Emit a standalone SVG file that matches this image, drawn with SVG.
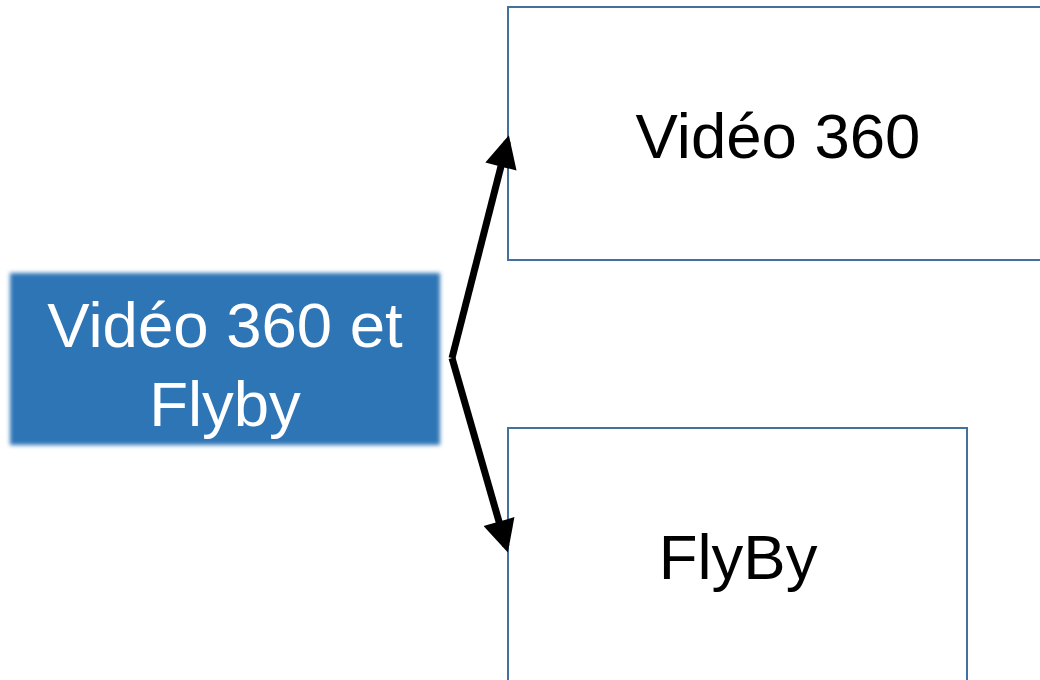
<svg xmlns="http://www.w3.org/2000/svg" width="1040" height="680" viewBox="0 0 1040 680">
<style>
.box{fill:#ffffff;stroke:#41719c;stroke-width:2}
.lbl{font-family:"Liberation Sans",Arial,sans-serif;font-size:63.5px;text-anchor:middle}
.conn{fill:none;stroke:#000;stroke-width:7}
</style>
<defs>
<filter id="soft" x="-5%" y="-10%" width="110%" height="120%">
<feGaussianBlur stdDeviation="2"/>
</filter>
<marker id="ah" viewBox="0 0 10 10" refX="8" refY="5" markerWidth="5" markerHeight="4.6" markerUnits="strokeWidth" orient="auto">
<path d="M0,0 L10,5 L0,10 z" fill="#000"/>
</marker>
</defs>
<rect width="1040" height="680" fill="#ffffff"/>
<g id="node-source">
<rect x="10" y="273" width="430" height="172" fill="#2e75b6" filter="url(#soft)"/>
<text class="lbl" x="225" y="347" fill="#ffffff">Vidéo 360 et</text>
<text class="lbl" x="225" y="426" fill="#ffffff">Flyby</text>
</g>
<g id="node-video360">
<rect class="box" x="508" y="7" width="540" height="253"/>
<text class="lbl" x="778" y="158" fill="#000">Vidéo 360</text>
</g>
<g id="node-flyby">
<rect class="box" x="508" y="428" width="459" height="260"/>
<text class="lbl" x="738" y="579" fill="#000">FlyBy</text>
</g>
<g id="connectors">
<path class="conn" d="M452,358 L507.3,141.6" marker-end="url(#ah)"/>
<path class="conn" d="M452,358 L506.1,546.3" marker-end="url(#ah)"/>
</g>
</svg>
